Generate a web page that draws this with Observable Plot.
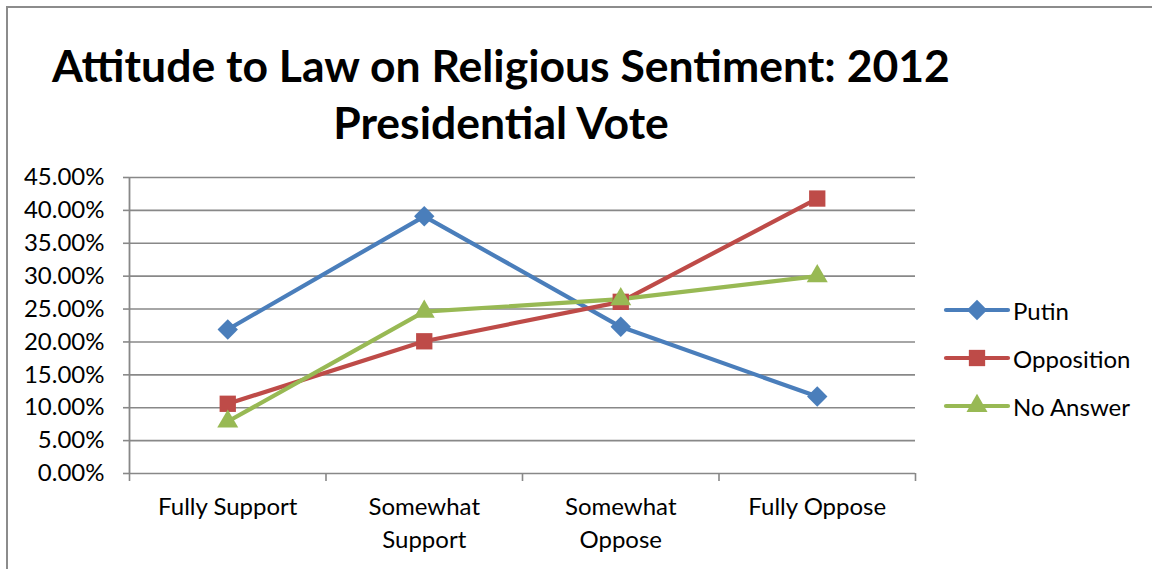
<!DOCTYPE html>
<html>
<head>
<meta charset="utf-8">
<script src="https://cdn.jsdelivr.net/npm/d3@7"></script>
<script src="https://cdn.jsdelivr.net/npm/@observablehq/plot@0.6"></script>
<style>
  html, body { margin: 0; padding: 0; background: #fff; }
  #wrap { position: relative; width: 1152px; height: 569px; overflow: hidden; font-family: Lato, "Open Sans", sans-serif; }
  #frame { position: absolute; left: 6px; top: 6px; width: 1200px; height: 600px; border-left: 2px solid #8c8c8c; border-top: 2px solid #8c8c8c; }
  #title { position: absolute; left: 0; width: 1002px; top: 36px; text-align: center; font-weight: bold; font-size: 44.5px; line-height: 57px; color: #000; }
  #chart { position: absolute; left: 0; top: 0; }
  #legend { position: absolute; left: 943px; top: 0; font-size: 24px; color: #000; }
  .lg { position: absolute; left: 0; display: flex; align-items: center; white-space: nowrap; }
  .lg svg { margin-right: 2px; }
</style>
</head>
<body>
<div id="wrap">
  <div id="frame"></div>
  <div id="title">Attitude to Law on Religious Sentiment: 2012<br>Presidential Vote</div>
  <div id="chart"></div>
  <div id="legend"></div>
</div>
<script>
const categories = ["Fully Support", "Somewhat\nSupport", "Somewhat\nOppose", "Fully Oppose"];
const seriesNames = ["Putin", "Opposition", "No Answer"];
const putin = [0.219, 0.391, 0.223, 0.117];
const opposition = [0.106, 0.201, 0.261, 0.418];
const noAnswer = [0.079, 0.246, 0.265, 0.300];
const yTicks = [0, 0.05, 0.10, 0.15, 0.20, 0.25, 0.30, 0.35, 0.40, 0.45];
const colors = ["#4A7EBB", "#BE4B48", "#98B954"];
const symbols = ["diamond2", "square", "triangle"];
const symbolR = [9.2, 9.2, 7.8];

const allSeries = [putin, opposition, noAnswer];
const data = [];
allSeries.forEach((vals, s) => vals.forEach((v, i) => data.push({series: seriesNames[s], i, v})));
const catData = categories.map((c, i) => ({i, label: c}));
const boundaries = d3.range(categories.length + 1).map(k => k - 0.5);

const marks = [
  Plot.gridY(yTicks, {stroke: "#888888", strokeOpacity: 1, strokeWidth: 1.6}),
  Plot.axisY(yTicks, {tickSize: 6, tickPadding: 19, tickFormat: d => (d * 100).toFixed(2) + "%", fontSize: 24, stroke: "#888888", strokeWidth: 1.6, color: "#000", label: null}),
  Plot.ruleX([-0.5], {stroke: "#888888", strokeWidth: 1.8}),
  Plot.axisX(boundaries, {tickSize: 8, tickFormat: () => "", stroke: "#888888", strokeWidth: 1.6, label: null}),
  Plot.text(catData, {x: "i", y: () => 0, text: "label", dy: 18, lineAnchor: "top", lineHeight: 1.38, fontSize: 24, fill: "#000"}),
  Plot.line(data, {x: "i", y: "v", z: "series", stroke: "series", strokeWidth: 4.2, strokeLinejoin: "round", strokeLinecap: "round"})
];
seriesNames.forEach((name, s) => {
  marks.push(Plot.dot(data.filter(d => d.series === name), {x: "i", y: "v", symbol: () => symbols[s], r: symbolR[s], fill: colors[s], stroke: "none"}));
});

const plot = Plot.plot({
  width: 1152,
  height: 569,
  marginLeft: 129,
  marginRight: 237,
  marginTop: 177,
  marginBottom: 96,
  style: {fontFamily: "Lato, 'Open Sans', sans-serif", background: "transparent", overflow: "visible"},
  x: {type: "linear", domain: [-0.5, 3.5], axis: null},
  y: {domain: [0, 0.45], axis: null},
  color: {domain: seriesNames, range: colors},
  symbol: {type: "identity"},
  marks
});
document.getElementById("chart").appendChild(plot);

// legend
const legend = document.getElementById("legend");
const rowsY = [310, 358, 406];
seriesNames.forEach((name, s) => {
  const row = document.createElement("div");
  row.className = "lg";
  row.style.top = (rowsY[s] - 15) + "px";
  row.style.height = "30px";
  const svg = d3.create("svg").attr("width", 68).attr("height", 30);
  svg.append("line").attr("x1", 3).attr("x2", 65).attr("y1", 15).attr("y2", 15)
    .attr("stroke", colors[s]).attr("stroke-width", 4.2).attr("stroke-linecap", "round");
  const sym = {diamond2: d3.symbolDiamond2, square: d3.symbolSquare, triangle: d3.symbolTriangle}[symbols[s]];
  svg.append("path").attr("transform", "translate(34,15)")
    .attr("d", d3.symbol(sym, Math.PI * symbolR[s] * symbolR[s])()).attr("fill", colors[s]);
  row.appendChild(svg.node());
  const t = document.createElement("span");
  t.textContent = name;
  row.appendChild(t);
  legend.appendChild(row);
});
</script>
</body>
</html>
